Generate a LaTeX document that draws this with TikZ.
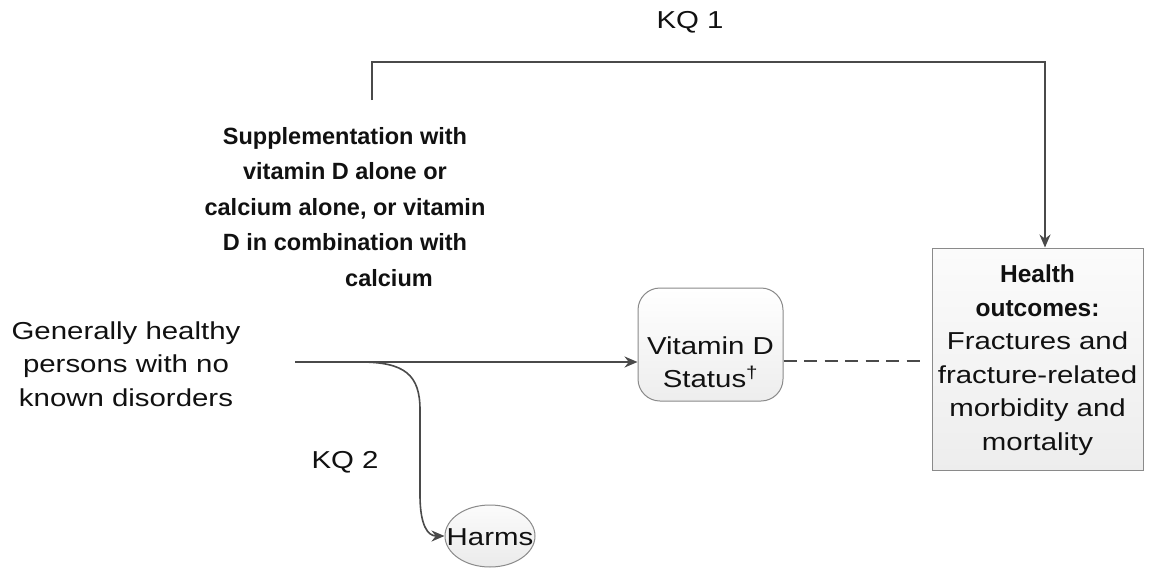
\documentclass[tikz,border=0pt]{standalone}
\usepackage{fontspec}
\setmainfont{Liberation Sans}[FakeStretch=1.2]
\newfontfamily\bfam{Liberation Sans}
\usetikzlibrary{arrows.meta,shapes.geometric,calc}
\newcommand{\bftxt}[1]{{\bfam\bfseries #1}}
\definecolor{linec}{HTML}{4A4A4A}
\definecolor{borderc}{HTML}{8A8A8A}
\definecolor{txtc}{HTML}{111111}
\tikzset{
  txt/.style={text=txtc, align=center, inner sep=0pt, font=\fontsize{24.5}{33.5}\selectfont},
  boldtxt/.style={txt, font=\fontsize{23.5}{35.5}\selectfont\bfam\bfseries},
  conn/.style={draw=linec, line width=1.6pt},
  arr/.style={conn, -{Stealth[length=13pt,width=11pt]}},
  dashconn/.style={draw=linec, line width=1.4pt, dash pattern=on 13pt off 7.5pt},
  roundbox/.style={draw=borderc, line width=1pt, rounded corners=22pt, top color=white, bottom color=gray!14, minimum width=145pt, minimum height=113pt, inner sep=0pt},
  squarebox/.style={draw=borderc, line width=1pt, top color=gray!3, bottom color=gray!14, minimum width=211pt, minimum height=222pt, inner sep=0pt},
  ellbox/.style={draw=borderc, line width=1pt, ellipse, top color=gray!3, bottom color=gray!16, minimum width=90pt, minimum height=62pt, inner sep=0pt},
}
\begin{document}
\begin{tikzpicture}[x=1pt,y=-1pt]
\useasboundingbox[fill=white] (0,0) rectangle (1149,584);

% boxes
\node[roundbox] (vit) at (710.5,344.5) {};
\node[txt] (vittxt) at (710.5,362) {Vitamin D\\Status\textsuperscript{†}};
\node[squarebox] (health) at (1037.5,359) {};
\node[txt] (healthtxt) at (1037.5,360) {\bftxt{Health}\\\bftxt{outcomes:}\\Fractures and\\fracture-related\\morbidity and\\mortality};
\node[ellbox] (harms) at (490,536) {};
\node[txt] (harmstxt) at (490,537) {Harms};

% texts
\node[txt] (pop) at (126,364) {Generally healthy\\persons with no\\known disorders};
\node[boldtxt] (supp) at (345,207) {Supplementation with\\vitamin D alone or\\calcium alone, or vitamin\\D in combination with\\\hspace*{88pt}calcium};
\node[txt] (kq1) at (690,22) {KQ 1};
\node[txt] (kq2) at (345,462) {KQ 2};

% coordinates
\coordinate (pstart) at (295,362);
\coordinate (branch) at (360,362);
\coordinate (kq1s) at (372,100);
\coordinate (hn) at ($(health.north)+(7.5,0)$);
\coordinate (dend) at ($(health.west |- 0,361)+(-9,0)$);

% connectors
\draw[arr] (pstart) -- (vit.west |- pstart);
\draw[arr] (branch) .. controls (405,362) and (420,375) .. (420,410) -- (420,495) .. controls (420,526) and (428,536) .. (harms.west);
\draw[arr] (kq1s) -- ++(0,-38) -| (hn);
\draw[dashconn] (vit.east |- 0,361) -- (dend);
\end{tikzpicture}
\end{document}
